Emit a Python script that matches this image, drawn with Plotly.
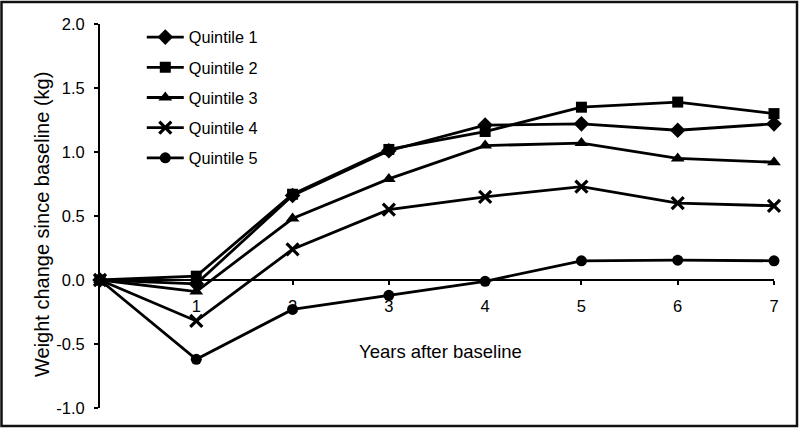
import plotly.graph_objects as go

years = [0, 1, 2, 3, 4, 5, 6, 7]
quintile_names = ["Quintile 1", "Quintile 2", "Quintile 3", "Quintile 4", "Quintile 5"]
q1 = [0.0, -0.03, 0.66, 1.01, 1.21, 1.22, 1.17, 1.22]
q2 = [0.0, 0.03, 0.67, 1.02, 1.16, 1.35, 1.39, 1.30]
q3 = [0.0, -0.09, 0.48, 0.79, 1.05, 1.07, 0.95, 0.92]
q4 = [0.0, -0.32, 0.24, 0.55, 0.65, 0.73, 0.60, 0.58]
q5 = [0.0, -0.62, -0.23, -0.12, -0.01, 0.15, 0.155, 0.15]
series = [q1, q2, q3, q4, q5]
symbols = ["diamond", "square", "triangle-up", "x-thin", "circle"]
sizes = [12, 11, 12, 12, 11]

x_ticks = [1, 2, 3, 4, 5, 6, 7]
y_ticks = [-1.0, -0.5, 0.0, 0.5, 1.0, 1.5, 2.0]
x_title = "Years after baseline"
y_title = "Weight change since baseline (kg)"

FONT = "Arial, Liberation Sans, sans-serif"

fig = go.Figure()
for i, (name, vals) in enumerate(zip(quintile_names, series)):
    sym = symbols[i]
    marker = dict(symbol=sym, size=sizes[i], color="black")
    if sym == "x-thin":
        marker["line"] = dict(color="black", width=3.2)
    fig.add_trace(go.Scatter(
        x=years, y=vals, name=name, mode="lines+markers",
        line=dict(color="black", width=2.8),
        marker=marker, cliponaxis=False, legendgroup=name,
    ))

fig.update_layout(
    width=800, height=428,
    margin=dict(l=100, r=26, t=24, b=20),
    paper_bgcolor="white", plot_bgcolor="white",
    font=dict(family=FONT, size=16.5, color="black"),
    showlegend=True,
    legend=dict(x=0.062, y=1.0104, xanchor="left", yanchor="top",
                bgcolor="rgba(0,0,0,0)", tracegroupgap=6, itemwidth=37,
                font=dict(size=16.3, family=FONT)),
    xaxis=dict(range=[0, 7], anchor="free", position=1/3,
               tickvals=x_ticks, ticktext=[str(t) for t in x_ticks],
               ticks="outside", ticklen=4, tickwidth=2, tickcolor="black",
               showline=True, linecolor="black", linewidth=2,
               showgrid=False, zeroline=False,
               ticklabelstandoff=7),
    yaxis=dict(range=[-1, 2], tickvals=y_ticks,
               ticktext=[f"{v:.1f}" for v in y_ticks],
               ticks="outside", ticklen=4, tickwidth=2, tickcolor="black",
               showline=True, linecolor="black", linewidth=2,
               showgrid=False, zeroline=False,
               ticklabelstandoff=6),
)

fig.add_annotation(text=x_title, xref="paper", yref="paper",
                   x=(440.5 - 100) / 674, y=(408 - 351) / 384,
                   xanchor="center", yanchor="middle", showarrow=False,
                   font=dict(size=18.5, family=FONT, color="black"))
fig.add_annotation(text=y_title, xref="paper", yref="paper",
                   x=(42 - 100) / 674, y=(408 - 225) / 384, textangle=-90,
                   xanchor="center", yanchor="middle", showarrow=False,
                   font=dict(size=20, family=FONT, color="black"))

fig.add_shape(type="rect", xref="paper", yref="paper",
              x0=(1.5 - 100) / 674, x1=(797 - 100) / 674,
              y0=(408 - 426) / 384, y1=(408 - 2) / 384,
              line=dict(color="#111111", width=2.5), fillcolor="rgba(0,0,0,0)",
              layer="below")

fig.write_html("out.html", config={"displayModeBar": False},
               post_script="document.body.style.margin='0';document.body.style.overflow='hidden';")
